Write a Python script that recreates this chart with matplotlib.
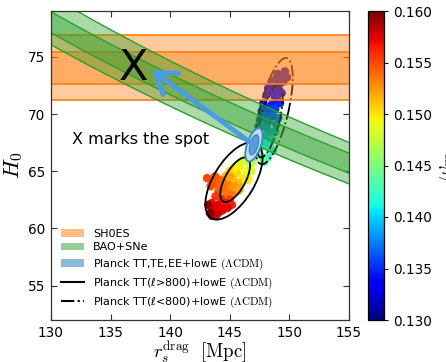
import numpy as np
import matplotlib
matplotlib.use("Agg")
import matplotlib.pyplot as plt
from matplotlib.patches import Ellipse, Patch
from matplotlib.lines import Line2D

plt.rcParams['font.family'] = ['DejaVu Sans']
plt.rcParams['mathtext.fontset'] = 'cm'

# ---------------- data ----------------
xlim = (130, 155)
ylim = (52, 79)
xticks = [130, 135, 140, 145, 150, 155]
yticks = [55, 60, 65, 70, 75]
cbar_ticks = [0.130, 0.135, 0.140, 0.145, 0.150, 0.155, 0.160]
om_range = (0.130, 0.160)

# SH0ES band (1 sigma, 2 sigma)
shoes_1s = (72.64, 75.46)
shoes_2s = (71.24, 76.90)

# BAO+SNe band edges: H0 at r_s = 130 and at r_s = 155
bao_rs = [130, 155]
bao_2s_hi = [80.30, 67.51]
bao_1s_hi = [78.93, 66.58]
bao_1s_lo = [77.10, 64.83]
bao_2s_lo = [76.05, 63.90]

# chain samples (r_s, H0, omega_m)
pts_rs = [149.63, 149.35, 148.93, 148.51, 149.49, 149.00, 149.80, 148.70, 149.10,
          148.23, 148.93, 148.09, 148.79, 149.35, 148.50, 149.00,
          147.81, 148.51, 149.21, 147.68, 148.37, 149.07, 147.53, 148.23,
          148.20, 148.80, 147.90, 148.60,
          147.39, 148.09, 148.79, 147.26, 147.95, 148.90, 147.70, 148.40,
          147.11, 147.68, 148.23, 147.39, 147.60, 148.00, 147.50, 148.50,
          148.20, 148.60, 147.90,
          147.68, 146.97, 146.90, 147.10,
          146.55, 146.13, 146.69,
          145.86, 146.42, 145.58, 146.13, 145.30, 145.86, 146.55, 146.80,
          145.30, 145.00, 144.70, 145.50, 146.00, 146.30, 145.80,
          145.02, 145.44, 144.87, 145.70, 145.10,
          144.18, 143.76, 144.46, 144.04, 144.74, 145.16, 143.10, 143.40,
          144.50, 144.00, 143.50, 143.80, 144.30, 145.00,
          143.48, 144.04, 144.60, 145.16, 143.62, 144.18, 144.40,
          143.90, 144.80, 143.50, 143.90,
          143.20, 143.34]
pts_h0 = [73.72, 73.28, 73.14, 72.84, 72.84, 73.50, 73.20, 72.50, 72.50,
          72.26, 72.12, 71.68, 71.53, 71.83, 71.90, 71.20,
          70.95, 70.80, 70.95, 70.22, 70.08, 69.64, 69.49, 69.34,
          70.50, 70.40, 69.80, 69.80,
          68.91, 68.77, 68.47, 68.18, 68.03, 69.10, 68.90, 68.40,
          67.60, 67.31, 67.16, 66.72, 67.90, 67.50, 67.00, 67.80,
          66.20, 66.80, 65.80,
          66.29, 66.14, 65.80, 66.50,
          66.43, 66.00, 65.56,
          65.41, 64.97, 64.83, 64.40, 64.25, 63.96, 64.30, 65.00,
          65.30, 65.00, 64.60, 64.00, 65.80, 64.20, 63.40,
          64.54, 63.66, 63.81, 63.30, 63.30,
          64.25, 64.54, 63.52, 63.23, 63.09, 62.94, 64.40, 63.70,
          64.00, 63.80, 64.00, 62.80, 62.60, 62.50,
          62.21, 62.06, 62.21, 62.06, 61.63, 61.48, 61.60,
          61.90, 61.80, 61.10, 61.20,
          62.06, 61.34]
pts_om = [0.1325, 0.1330, 0.1328, 0.1332, 0.1330, 0.1328, 0.1326, 0.1334, 0.1333,
          0.1333, 0.1335, 0.1338, 0.1336, 0.1334, 0.1337, 0.1342,
          0.1345, 0.1348, 0.1350, 0.1355, 0.1358, 0.1370, 0.1362, 0.1365,
          0.1352, 0.1355, 0.1360, 0.1362,
          0.1375, 0.1378, 0.1385, 0.1390, 0.1395, 0.1372, 0.1376, 0.1385,
          0.1410, 0.1415, 0.1420, 0.1430, 0.1398, 0.1410, 0.1425, 0.1405,
          0.1425, 0.1418, 0.1440,
          0.1445, 0.1460, 0.1472, 0.1455,
          0.1470, 0.1480, 0.1475,
          0.1495, 0.1490, 0.1505, 0.1500, 0.1510, 0.1515, 0.1495, 0.1485,
          0.1495, 0.1505, 0.1515, 0.1512, 0.1485, 0.1500, 0.1515,
          0.1520, 0.1525, 0.1530, 0.1520, 0.1525,
          0.1540, 0.1545, 0.1540, 0.1545, 0.1535, 0.1535, 0.1550, 0.1550,
          0.1535, 0.1542, 0.1548, 0.1555, 0.1558, 0.1555,
          0.1570, 0.1575, 0.1570, 0.1565, 0.1578, 0.1575, 0.1572,
          0.1575, 0.1572, 0.1585, 0.1580,
          0.1595, 0.1598]

# contour ellipses: centre and (Mxx, Myy, Mxy) in data units
tthi_center_2s = (145.35, 64.15)
tthi_2s = (5.76, 11.4, 4.86)
tthi_center_1s = (145.45, 64.25)
tthi_1s = (1.56, 3.80, 1.58)
ttlo_center_2s = (148.7, 70.25)
ttlo_2s = (2.50, 21.6, 4.65)
ttlo_center_1s = (148.35, 69.4)
ttlo_1s = (1.20, 10.2, 2.30)
full_center = (147.03, 67.31)
full_2s = (0.53, 2.13, 0.584)
full_1s = (0.152, 0.76, 0.17)

arrow_start = (147.0, 67.3)
arrow_end = (138.45, 73.86)
x_pos = (136.9, 74.05)
spot_pos = (131.8, 67.75)

legend_labels = ['SH0ES', 'BAO+SNe',
                 r'Planck TT,TE,EE+lowE $(\Lambda\mathrm{CDM})$',
                 r'Planck TT(ℓ>800)+lowE $(\Lambda\mathrm{CDM})$',
                 r'Planck TT(ℓ<800)+lowE $(\Lambda\mathrm{CDM})$']

# ---------------- helpers ----------------
def make_ellipse(center, m, **kw):
    M = np.array([[m[0], m[2]], [m[2], m[1]]])
    vals, vecs = np.linalg.eigh(M)
    big = vecs[:, 1]
    ang = np.degrees(np.arctan2(big[1], big[0]))
    return Ellipse(center, 2 * np.sqrt(vals[1]), 2 * np.sqrt(vals[0]),
                   angle=ang, **kw)

def band_curve(rs_pair, h_pair, x):
    p = np.log(h_pair[0] / h_pair[1]) / np.log(rs_pair[1] / rs_pair[0])
    return h_pair[0] * (rs_pair[0] / x) ** p

# ---------------- figure ----------------
fig = plt.figure(figsize=(4.46, 3.62), dpi=100)
ax = fig.add_axes([51 / 446, 42 / 362, 298 / 446, 309 / 362])
cax = fig.add_axes([368 / 446, 42 / 362, 16 / 446, 309 / 362])

orange = '#ff7f0e'
green = '#2ca02c'

sc = ax.scatter(pts_rs, pts_h0, c=pts_om, cmap='jet', vmin=om_range[0],
                vmax=om_range[1], s=38, edgecolors='none', zorder=1)

# dash-dot contours beneath the bands
for c, m in ((ttlo_center_2s, ttlo_2s), (ttlo_center_1s, ttlo_1s)):
    ax.add_patch(make_ellipse(c, m, fill=False, ec='black', lw=1.3,
                              ls='-.', zorder=1.5))

ax.axhspan(*shoes_2s, color=orange, alpha=0.4, lw=0, zorder=2)
ax.axhspan(*shoes_1s, color=orange, alpha=0.4, lw=0, zorder=2)
for yv in list(shoes_2s) + list(shoes_1s):
    ax.axhline(yv, color=orange, lw=1.2, zorder=2.1)

xx = np.linspace(xlim[0], xlim[1], 200)
b2h = band_curve(bao_rs, bao_2s_hi, xx)
b1h = band_curve(bao_rs, bao_1s_hi, xx)
b1l = band_curve(bao_rs, bao_1s_lo, xx)
b2l = band_curve(bao_rs, bao_2s_lo, xx)
ax.fill_between(xx, b2l, b2h, color=green, alpha=0.4, lw=0, zorder=2.2)
ax.fill_between(xx, b1l, b1h, color=green, alpha=0.4, lw=0, zorder=2.2)
for yy in (b2h, b1h, b1l, b2l):
    ax.plot(xx, yy, color=green, lw=1.0, zorder=2.3)

for c, m in ((tthi_center_2s, tthi_2s), (tthi_center_1s, tthi_1s)):
    ax.add_patch(make_ellipse(c, m, fill=False, ec='black', lw=1.3, zorder=3.5))

ax.add_patch(make_ellipse(full_center, full_2s, fc='#c5dcf1', ec='#3a86cc',
                          lw=1.3, zorder=4))
ax.add_patch(make_ellipse(full_center, full_1s, fc='#5e9fd9', ec='#3a86cc',
                          lw=1.0, zorder=4.1))

ax.annotate('', xy=arrow_end, xytext=arrow_start,
            arrowprops=dict(arrowstyle='->,head_length=1.4,head_width=0.95',
                            lw=3.5, color='#4a9be8', shrinkA=0, shrinkB=0,
                            mutation_scale=10),
            zorder=5)

ax.text(*x_pos, 'X', fontsize=31, ha='center', va='center', color='black',
        zorder=6)
ax.text(*spot_pos, 'X marks the spot', fontsize=11.5, ha='left', va='center',
        color='black', zorder=6)

handles = [Patch(color=orange, alpha=0.5, lw=0),
           Patch(color=green, alpha=0.5, lw=0),
           Patch(color='#1f77b4', alpha=0.5, lw=0),
           Line2D([], [], color='black', lw=1.5),
           Line2D([], [], color='black', lw=1.5, ls='-.')]
ax.legend(handles, legend_labels, loc='lower left', frameon=False,
          fontsize=8, handlelength=2.1, labelspacing=0.35)

ax.set_xlim(*xlim)
ax.set_ylim(*ylim)
ax.set_xticks(xticks)
ax.set_yticks(yticks)
ax.tick_params(direction='in', top=True, right=True, length=4, width=0.8,
               labelsize=9.8, color='#333333', pad=4)
for sp in ax.spines.values():
    sp.set_color('#333333')
    sp.set_linewidth(0.9)
ax.set_xlabel(r'$r_s^{\rm drag}\ \ [\rm Mpc]$', fontsize=13.5, labelpad=0)
ax.set_ylabel(r'$H_0$', fontsize=16, labelpad=2)

cb = fig.colorbar(sc, cax=cax, ticks=cbar_ticks)
cb.ax.set_yticklabels(['%.3f' % t for t in cbar_ticks])
cb.ax.tick_params(labelsize=9.8, length=3, width=0.8)
cb.set_label(r'$\omega_m$', fontsize=16, labelpad=3)
cb.outline.set_linewidth(0.9)

fig.savefig('out.png', dpi=100)
